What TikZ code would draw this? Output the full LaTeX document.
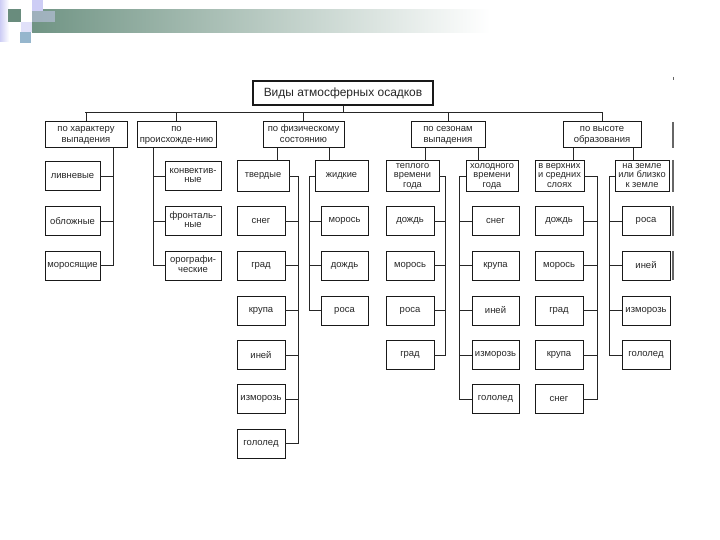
\documentclass[tikz,border=0pt]{standalone}
\usepackage{fontspec}
\setmainfont{Liberation Sans}
\definecolor{teal1}{RGB}{112,148,132}
\definecolor{lav}{RGB}{205,205,245}
\definecolor{lblue}{RGB}{150,182,205}
\definecolor{dteal}{RGB}{105,140,125}
\newcommand\ml[1]{\begin{tabular}{@{}c@{}}#1\end{tabular}}
\begin{document}
\begin{tikzpicture}[x=1bp,y=-1bp,
  box/.style={draw=black!90, line width=0.8bp, inner sep=0bp, text=black!85, font=\fontsize{9.5}{10}\selectfont},
  cat/.style={box, minimum height=26bp, font=\fontsize{9.5}{11.5}\selectfont},
  sub/.style={box, minimum height=31bp, font=\fontsize{9.3}{9.9}\selectfont},
  leaf/.style={box, minimum height=29bp},
  link/.style={draw=black!85, line width=0.7bp},
  edgebar/.style={draw=black!60, line width=1.5bp}]
\useasboundingbox (0,0) rectangle (720,540);
% decoration
\shade[left color=teal1, right color=white] (32,10) rectangle (490,33);
\shade[left color=lav, right color=white] (0,0) rectangle (9,42);
\fill[dteal] (8,9) rectangle (21,22);
\fill[lav] (32,0) rectangle (43,11);
\fill[lav, opacity=0.5] (32,11) rectangle (55,22);
\fill[lav!60] (21,22) rectangle (32,32);
\fill[lblue] (20,32) rectangle (31,43);
% title
\node[draw=black!90, line width=1.4bp, minimum width=180bp, minimum height=24bp, text=black!85, font=\fontsize{12}{12}\selectfont] (title) at (343,93) {Виды атмосферных осадков};
% categories
\node[cat, minimum width=82bp] (c1) at (86,134.5) {\ml{по характеру\\выпадения}};
\node[cat, minimum width=79bp] (c2) at (176.5,134.5) {\ml{по\\происхожде-нию}};
\node[cat, minimum width=81bp] (c3) at (303.5,134.5) {\ml{по физическому\\состоянию}};
\node[cat, minimum width=74bp] (c4) at (448,134.5) {\ml{по сезонам\\выпадения}};
\node[cat, minimum width=78bp] (c5) at (602,134.5) {\ml{по высоте\\образования}};
\coordinate (bl) at (85,112);
\coordinate (br) at (602,112);
\draw[link] (bl) -- (br);
\draw[link] (title.south) -- (title.south |- bl);
\foreach \c in {c1,c2,c3,c4,c5} \draw[link] (\c.north) -- (\c.north |- bl);
% column 1
\node[leaf, minimum width=55bp] (a1) at (72.5,176) {ливневые};
\node[leaf, minimum width=55bp] (a2) at (72.5,221) {обложные};
\node[leaf, minimum width=55bp] (a3) at (72.5,265.5) {моросящие};
\coordinate (v1) at (113,0);
\draw[link] (v1 |- c1.south) -- (v1 |- a3.east) -- (a3.east);
\draw[link] (a1.east) -- (v1 |- a1.east);
\draw[link] (a2.east) -- (v1 |- a2.east);
% column 2
\node[leaf, minimum width=56bp] (b1) at (193,176) {\ml{конвектив-\\ные}};
\node[leaf, minimum width=56bp] (b2) at (193,221) {\ml{фронталь-\\ные}};
\node[leaf, minimum width=56bp] (b3) at (193,265.5) {\ml{орографи-\\ческие}};
\coordinate (v2) at (153,0);
\draw[link] (v2 |- c2.south) -- (v2 |- b3.west) -- (b3.west);
\draw[link] (b1.west) -- (v2 |- b1.west);
\draw[link] (b2.west) -- (v2 |- b2.west);
% column 3
\node[sub, minimum width=52bp] (s1) at (263,176) {твердые};
\node[sub, minimum width=53bp] (s2) at (341.5,176) {жидкие};
\coordinate (k1) at (277,0);
\coordinate (k2) at (329,0);
\draw[link] (k1 |- c3.south) -- (k1 |- s1.north);
\draw[link] (k2 |- c3.south) -- (k2 |- s2.north);
\node[leaf, minimum width=48bp] (d1) at (261,221) {снег};
\node[leaf, minimum width=48bp] (d2) at (261,265.5) {град};
\node[leaf, minimum width=48bp] (d3) at (261,310.5) {крупа};
\node[leaf, minimum width=48bp] (d4) at (261,355) {иней};
\node[leaf, minimum width=48bp] (d5) at (261,399) {изморозь};
\node[leaf, minimum width=48bp] (d6) at (261,443.5) {гололед};
\coordinate (v3) at (298,0);
\draw[link] (s1.east) -- (v3 |- s1.east) -- (v3 |- d6.east) -- (d6.east);
\foreach \n in {d1,d2,d3,d4,d5} \draw[link] (\n.east) -- (v3 |- \n.east);
\node[leaf, minimum width=47bp] (e1) at (344.5,221) {морось};
\node[leaf, minimum width=47bp] (e2) at (344.5,265.5) {дождь};
\node[leaf, minimum width=47bp] (e3) at (344.5,310.5) {роса};
\coordinate (v4) at (309,0);
\draw[link] (s2.west) -- (v4 |- s2.west) -- (v4 |- e3.west) -- (e3.west);
\foreach \n in {e1,e2} \draw[link] (\n.west) -- (v4 |- \n.west);
% column 4
\node[sub, minimum width=53bp] (t1) at (412.5,176) {\ml{теплого\\времени\\года}};
\node[sub, minimum width=52bp] (t2) at (492,176) {\ml{холодного\\времени\\года}};
\coordinate (k3) at (425,0);
\coordinate (k4) at (478,0);
\draw[link] (k3 |- c4.south) -- (k3 |- t1.north);
\draw[link] (k4 |- c4.south) -- (k4 |- t2.north);
\node[leaf, minimum width=48bp] (f1) at (410,221) {дождь};
\node[leaf, minimum width=48bp] (f2) at (410,265.5) {морось};
\node[leaf, minimum width=48bp] (f3) at (410,310.5) {роса};
\node[leaf, minimum width=48bp] (f4) at (410,355) {град};
\coordinate (v5) at (445,0);
\draw[link] (t1.east) -- (v5 |- t1.east) -- (v5 |- f4.east) -- (f4.east);
\foreach \n in {f1,f2,f3} \draw[link] (\n.east) -- (v5 |- \n.east);
\node[leaf, minimum width=47bp] (g1) at (495.5,221) {снег};
\node[leaf, minimum width=47bp] (g2) at (495.5,265.5) {крупа};
\node[leaf, minimum width=47bp] (g3) at (495.5,310.5) {иней};
\node[leaf, minimum width=47bp] (g4) at (495.5,355) {изморозь};
\node[leaf, minimum width=47bp] (g5) at (495.5,399) {гололед};
\coordinate (v6) at (459,0);
\draw[link] (t2.west) -- (v6 |- t2.west) -- (v6 |- g5.west) -- (g5.west);
\foreach \n in {g1,g2,g3,g4} \draw[link] (\n.west) -- (v6 |- \n.west);
% column 5
\node[sub, minimum width=49bp] (u1) at (559.5,176) {\ml{в верхних\\и средних\\слоях}};
\node[sub, minimum width=54bp] (u2) at (642,176) {\ml{на земле\\или близко\\к земле}};
\coordinate (k5) at (573,0);
\coordinate (k6) at (633,0);
\draw[link] (k5 |- c5.south) -- (k5 |- u1.north);
\draw[link] (k6 |- c5.south) -- (k6 |- u2.north);
\node[leaf, minimum width=48bp] (h1) at (559,221) {дождь};
\node[leaf, minimum width=48bp] (h2) at (559,265.5) {морось};
\node[leaf, minimum width=48bp] (h3) at (559,310.5) {град};
\node[leaf, minimum width=48bp] (h4) at (559,355) {крупа};
\node[leaf, minimum width=48bp] (h5) at (559,399) {снег};
\coordinate (v7) at (597,0);
\draw[link] (u1.east) -- (v7 |- u1.east) -- (v7 |- h5.east) -- (h5.east);
\foreach \n in {h1,h2,h3,h4} \draw[link] (\n.east) -- (v7 |- \n.east);
\node[leaf, minimum width=48bp] (m1) at (646,221) {роса};
\node[leaf, minimum width=48bp] (m2) at (646,265.5) {иней};
\node[leaf, minimum width=48bp] (m3) at (646,310.5) {изморозь};
\node[leaf, minimum width=48bp] (m4) at (646,355) {гололед};
\coordinate (v8) at (609,0);
\draw[link] (u2.west) -- (v8 |- u2.west) -- (v8 |- m4.west) -- (m4.west);
\foreach \n in {m1,m2,m3} \draw[link] (\n.west) -- (v8 |- \n.west);
% right-edge fragments
\draw[edgebar] (673,122) -- (673,148);
\draw[edgebar] (673,160) -- (673,192);
\draw[edgebar] (673,206) -- (673,236);
\draw[edgebar] (673,251) -- (673,280);
\draw[draw=black!60, line width=1bp] (673,77) -- (673,80);
\end{tikzpicture}
\end{document}
